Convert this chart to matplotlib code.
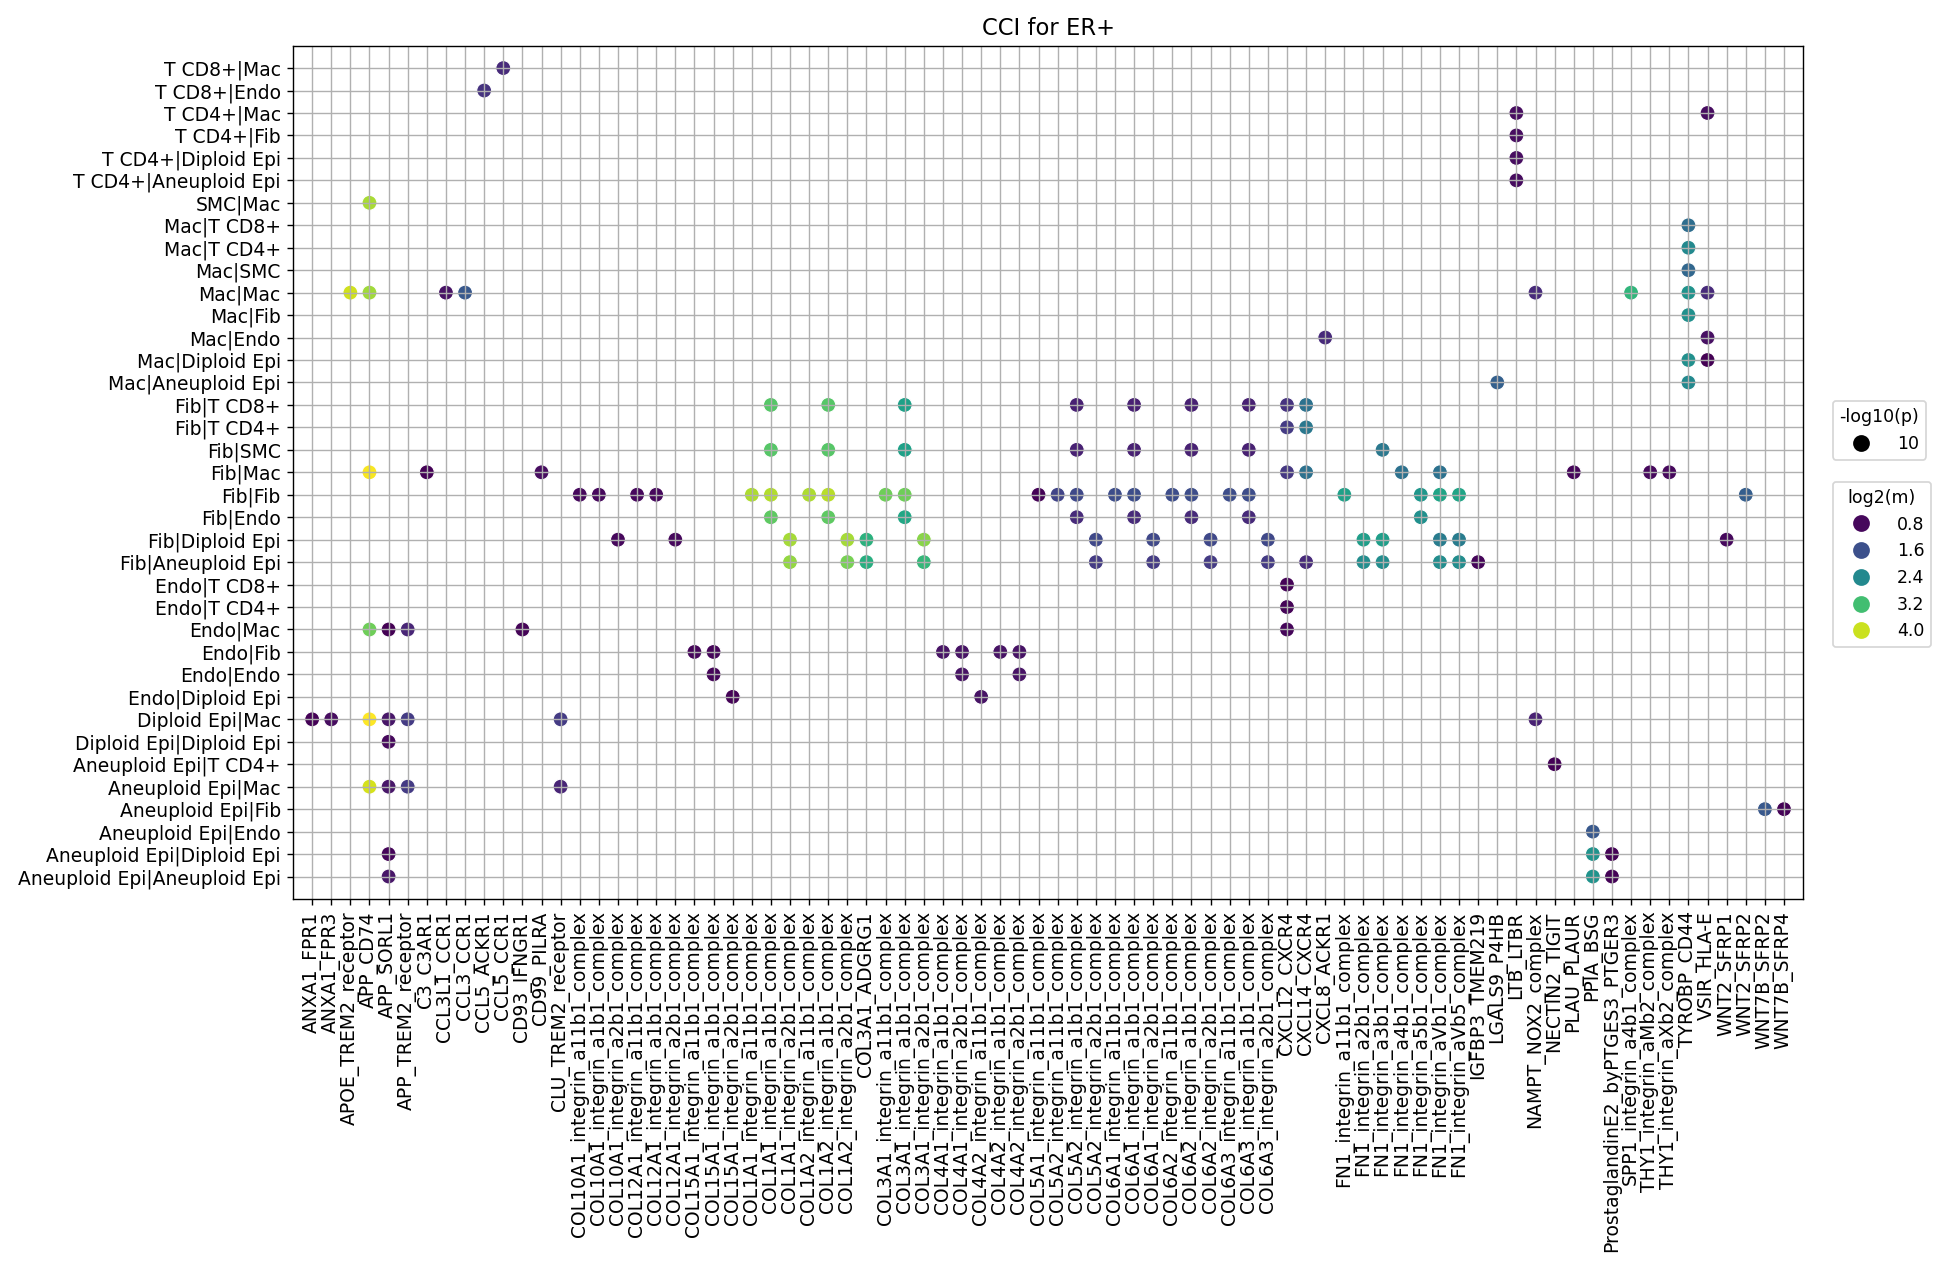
import numpy as np
import matplotlib
matplotlib.use("Agg")
import matplotlib.pyplot as plt
from matplotlib.lines import Line2D

# sender|receiver pairs, top to bottom
pairs = [
    "T CD8+|Mac", "T CD8+|Endo", "T CD4+|Mac", "T CD4+|Fib", "T CD4+|Diploid Epi",
    "T CD4+|Aneuploid Epi", "SMC|Mac", "Mac|T CD8+", "Mac|T CD4+", "Mac|SMC",
    "Mac|Mac", "Mac|Fib", "Mac|Endo", "Mac|Diploid Epi", "Mac|Aneuploid Epi",
    "Fib|T CD8+", "Fib|T CD4+", "Fib|SMC", "Fib|Mac", "Fib|Fib", "Fib|Endo",
    "Fib|Diploid Epi", "Fib|Aneuploid Epi", "Endo|T CD8+", "Endo|T CD4+",
    "Endo|Mac", "Endo|Fib", "Endo|Endo", "Endo|Diploid Epi", "Diploid Epi|Mac",
    "Diploid Epi|Diploid Epi", "Aneuploid Epi|T CD4+", "Aneuploid Epi|Mac",
    "Aneuploid Epi|Fib", "Aneuploid Epi|Endo", "Aneuploid Epi|Diploid Epi",
    "Aneuploid Epi|Aneuploid Epi",
]

# ligand_receptor interactions, left to right
interactions = [
    "ANXA1_FPR1", "ANXA1_FPR3", "APOE_TREM2_receptor", "APP_CD74", "APP_SORL1",
    "APP_TREM2_receptor", "C3_C3AR1", "CCL3L1_CCR1", "CCL3_CCR1", "CCL5_ACKR1",
    "CCL5_CCR1", "CD93_IFNGR1", "CD99_PILRA", "CLU_TREM2_receptor",
    "COL10A1_integrin_a11b1_complex", "COL10A1_integrin_a1b1_complex",
    "COL10A1_integrin_a2b1_complex", "COL12A1_integrin_a11b1_complex",
    "COL12A1_integrin_a1b1_complex", "COL12A1_integrin_a2b1_complex",
    "COL15A1_integrin_a11b1_complex", "COL15A1_integrin_a1b1_complex",
    "COL15A1_integrin_a2b1_complex", "COL1A1_integrin_a11b1_complex",
    "COL1A1_integrin_a1b1_complex", "COL1A1_integrin_a2b1_complex",
    "COL1A2_integrin_a11b1_complex", "COL1A2_integrin_a1b1_complex",
    "COL1A2_integrin_a2b1_complex", "COL3A1_ADGRG1",
    "COL3A1_integrin_a11b1_complex", "COL3A1_integrin_a1b1_complex",
    "COL3A1_integrin_a2b1_complex", "COL4A1_integrin_a1b1_complex",
    "COL4A1_integrin_a2b1_complex", "COL4A2_integrin_a11b1_complex",
    "COL4A2_integrin_a1b1_complex", "COL4A2_integrin_a2b1_complex",
    "COL5A1_integrin_a11b1_complex", "COL5A2_integrin_a11b1_complex",
    "COL5A2_integrin_a1b1_complex", "COL5A2_integrin_a2b1_complex",
    "COL6A1_integrin_a11b1_complex", "COL6A1_integrin_a1b1_complex",
    "COL6A1_integrin_a2b1_complex", "COL6A2_integrin_a11b1_complex",
    "COL6A2_integrin_a1b1_complex", "COL6A2_integrin_a2b1_complex",
    "COL6A3_integrin_a11b1_complex", "COL6A3_integrin_a1b1_complex",
    "COL6A3_integrin_a2b1_complex", "CXCL12_CXCR4", "CXCL14_CXCR4", "CXCL8_ACKR1",
    "FN1_integrin_a11b1_complex", "FN1_integrin_a2b1_complex",
    "FN1_integrin_a3b1_complex", "FN1_integrin_a4b1_complex",
    "FN1_integrin_a5b1_complex", "FN1_integrin_aVb1_complex",
    "FN1_integrin_aVb5_complex", "IGFBP3_TMEM219", "LGALS9_P4HB", "LTB_LTBR",
    "NAMPT_NOX2_complex", "NECTIN2_TIGIT", "PLAU_PLAUR", "PPIA_BSG",
    "ProstaglandinE2_byPTGES3_PTGER3", "SPP1_integrin_a4b1_complex",
    "THY1_integrin_aMb2_complex", "THY1_integrin_aXb2_complex", "TYROBP_CD44",
    "VSIR_HLA-E", "WNT2_SFRP1", "WNT2_SFRP2", "WNT7B_SFRP2", "WNT7B_SFRP4",
]

# significant hits: pair, interaction, log2(m)
dot_pair = [
    "T CD8+|Mac",
    "T CD8+|Endo",
    "T CD4+|Mac", "T CD4+|Mac",
    "T CD4+|Fib",
    "T CD4+|Diploid Epi",
    "T CD4+|Aneuploid Epi",
    "SMC|Mac",
    "Mac|T CD8+",
    "Mac|T CD4+",
    "Mac|SMC",
    "Mac|Mac", "Mac|Mac", "Mac|Mac", "Mac|Mac", "Mac|Mac", "Mac|Mac", "Mac|Mac", "Mac|Mac",
    "Mac|Fib",
    "Mac|Endo", "Mac|Endo",
    "Mac|Diploid Epi", "Mac|Diploid Epi",
    "Mac|Aneuploid Epi", "Mac|Aneuploid Epi",
    "Fib|T CD8+", "Fib|T CD8+", "Fib|T CD8+", "Fib|T CD8+", "Fib|T CD8+",
    "Fib|T CD8+", "Fib|T CD8+", "Fib|T CD8+", "Fib|T CD8+",
    "Fib|T CD4+", "Fib|T CD4+",
    "Fib|SMC", "Fib|SMC", "Fib|SMC", "Fib|SMC", "Fib|SMC", "Fib|SMC", "Fib|SMC", "Fib|SMC",
    "Fib|Mac", "Fib|Mac", "Fib|Mac", "Fib|Mac", "Fib|Mac",
    "Fib|Mac", "Fib|Mac", "Fib|Mac", "Fib|Mac", "Fib|Mac",
    "Fib|Fib", "Fib|Fib", "Fib|Fib", "Fib|Fib", "Fib|Fib", "Fib|Fib",
    "Fib|Fib", "Fib|Fib", "Fib|Fib", "Fib|Fib", "Fib|Fib", "Fib|Fib",
    "Fib|Fib", "Fib|Fib", "Fib|Fib", "Fib|Fib", "Fib|Fib", "Fib|Fib",
    "Fib|Fib", "Fib|Fib", "Fib|Fib", "Fib|Fib", "Fib|Fib", "Fib|Fib",
    "Fib|Endo", "Fib|Endo", "Fib|Endo", "Fib|Endo", "Fib|Endo", "Fib|Endo", "Fib|Endo", "Fib|Endo",
    "Fib|Diploid Epi", "Fib|Diploid Epi", "Fib|Diploid Epi", "Fib|Diploid Epi",
    "Fib|Diploid Epi", "Fib|Diploid Epi", "Fib|Diploid Epi", "Fib|Diploid Epi",
    "Fib|Diploid Epi", "Fib|Diploid Epi", "Fib|Diploid Epi", "Fib|Diploid Epi",
    "Fib|Diploid Epi", "Fib|Diploid Epi", "Fib|Diploid Epi",
    "Fib|Aneuploid Epi", "Fib|Aneuploid Epi", "Fib|Aneuploid Epi", "Fib|Aneuploid Epi",
    "Fib|Aneuploid Epi", "Fib|Aneuploid Epi", "Fib|Aneuploid Epi", "Fib|Aneuploid Epi",
    "Fib|Aneuploid Epi", "Fib|Aneuploid Epi", "Fib|Aneuploid Epi", "Fib|Aneuploid Epi",
    "Fib|Aneuploid Epi", "Fib|Aneuploid Epi",
    "Endo|T CD8+",
    "Endo|T CD4+",
    "Endo|Mac", "Endo|Mac", "Endo|Mac", "Endo|Mac", "Endo|Mac",
    "Endo|Fib", "Endo|Fib", "Endo|Fib", "Endo|Fib", "Endo|Fib", "Endo|Fib",
    "Endo|Endo", "Endo|Endo", "Endo|Endo",
    "Endo|Diploid Epi", "Endo|Diploid Epi",
    "Diploid Epi|Mac", "Diploid Epi|Mac", "Diploid Epi|Mac", "Diploid Epi|Mac",
    "Diploid Epi|Mac", "Diploid Epi|Mac", "Diploid Epi|Mac",
    "Diploid Epi|Diploid Epi",
    "Aneuploid Epi|T CD4+",
    "Aneuploid Epi|Mac", "Aneuploid Epi|Mac", "Aneuploid Epi|Mac", "Aneuploid Epi|Mac",
    "Aneuploid Epi|Fib", "Aneuploid Epi|Fib",
    "Aneuploid Epi|Endo",
    "Aneuploid Epi|Diploid Epi", "Aneuploid Epi|Diploid Epi", "Aneuploid Epi|Diploid Epi",
    "Aneuploid Epi|Aneuploid Epi", "Aneuploid Epi|Aneuploid Epi", "Aneuploid Epi|Aneuploid Epi",
]

dot_lr = [
    "CCL5_CCR1",
    "CCL5_ACKR1",
    "LTB_LTBR", "VSIR_HLA-E",
    "LTB_LTBR",
    "LTB_LTBR",
    "LTB_LTBR",
    "APP_CD74",
    "TYROBP_CD44",
    "TYROBP_CD44",
    "TYROBP_CD44",
    "APOE_TREM2_receptor", "APP_CD74", "CCL3L1_CCR1", "CCL3_CCR1",
    "NAMPT_NOX2_complex", "SPP1_integrin_a4b1_complex", "TYROBP_CD44", "VSIR_HLA-E",
    "TYROBP_CD44",
    "CXCL8_ACKR1", "VSIR_HLA-E",
    "TYROBP_CD44", "VSIR_HLA-E",
    "LGALS9_P4HB", "TYROBP_CD44",
    # Fib|T CD8+
    "COL1A1_integrin_a1b1_complex", "COL1A2_integrin_a1b1_complex",
    "COL3A1_integrin_a1b1_complex", "COL5A2_integrin_a1b1_complex",
    "COL6A1_integrin_a1b1_complex", "COL6A2_integrin_a1b1_complex",
    "COL6A3_integrin_a1b1_complex", "CXCL12_CXCR4", "CXCL14_CXCR4",
    # Fib|T CD4+
    "CXCL12_CXCR4", "CXCL14_CXCR4",
    # Fib|SMC
    "COL1A1_integrin_a1b1_complex", "COL1A2_integrin_a1b1_complex",
    "COL3A1_integrin_a1b1_complex", "COL5A2_integrin_a1b1_complex",
    "COL6A1_integrin_a1b1_complex", "COL6A2_integrin_a1b1_complex",
    "COL6A3_integrin_a1b1_complex", "FN1_integrin_a3b1_complex",
    # Fib|Mac
    "APP_CD74", "C3_C3AR1", "CD99_PILRA", "CXCL12_CXCR4", "CXCL14_CXCR4",
    "FN1_integrin_a4b1_complex", "FN1_integrin_aVb1_complex", "PLAU_PLAUR",
    "THY1_integrin_aMb2_complex", "THY1_integrin_aXb2_complex",
    # Fib|Fib
    "COL10A1_integrin_a11b1_complex", "COL10A1_integrin_a1b1_complex",
    "COL12A1_integrin_a11b1_complex", "COL12A1_integrin_a1b1_complex",
    "COL1A1_integrin_a11b1_complex", "COL1A1_integrin_a1b1_complex",
    "COL1A2_integrin_a11b1_complex", "COL1A2_integrin_a1b1_complex",
    "COL3A1_integrin_a11b1_complex", "COL3A1_integrin_a1b1_complex",
    "COL5A1_integrin_a11b1_complex", "COL5A2_integrin_a11b1_complex",
    "COL5A2_integrin_a1b1_complex", "COL6A1_integrin_a11b1_complex",
    "COL6A1_integrin_a1b1_complex", "COL6A2_integrin_a11b1_complex",
    "COL6A2_integrin_a1b1_complex", "COL6A3_integrin_a11b1_complex",
    "COL6A3_integrin_a1b1_complex", "FN1_integrin_a11b1_complex",
    "FN1_integrin_a5b1_complex", "FN1_integrin_aVb1_complex",
    "FN1_integrin_aVb5_complex", "WNT2_SFRP2",
    # Fib|Endo
    "COL1A1_integrin_a1b1_complex", "COL1A2_integrin_a1b1_complex",
    "COL3A1_integrin_a1b1_complex", "COL5A2_integrin_a1b1_complex",
    "COL6A1_integrin_a1b1_complex", "COL6A2_integrin_a1b1_complex",
    "COL6A3_integrin_a1b1_complex", "FN1_integrin_a5b1_complex",
    # Fib|Diploid Epi
    "COL10A1_integrin_a2b1_complex", "COL12A1_integrin_a2b1_complex",
    "COL1A1_integrin_a2b1_complex", "COL1A2_integrin_a2b1_complex",
    "COL3A1_ADGRG1", "COL3A1_integrin_a2b1_complex",
    "COL5A2_integrin_a2b1_complex", "COL6A1_integrin_a2b1_complex",
    "COL6A2_integrin_a2b1_complex", "COL6A3_integrin_a2b1_complex",
    "FN1_integrin_a2b1_complex", "FN1_integrin_a3b1_complex",
    "FN1_integrin_aVb1_complex", "FN1_integrin_aVb5_complex", "WNT2_SFRP1",
    # Fib|Aneuploid Epi
    "COL1A1_integrin_a2b1_complex", "COL1A2_integrin_a2b1_complex",
    "COL3A1_ADGRG1", "COL3A1_integrin_a2b1_complex",
    "COL5A2_integrin_a2b1_complex", "COL6A1_integrin_a2b1_complex",
    "COL6A2_integrin_a2b1_complex", "COL6A3_integrin_a2b1_complex",
    "CXCL14_CXCR4", "FN1_integrin_a2b1_complex", "FN1_integrin_a3b1_complex",
    "FN1_integrin_aVb1_complex", "FN1_integrin_aVb5_complex", "IGFBP3_TMEM219",
    # Endo rows
    "CXCL12_CXCR4",
    "CXCL12_CXCR4",
    "APP_CD74", "APP_SORL1", "APP_TREM2_receptor", "CD93_IFNGR1", "CXCL12_CXCR4",
    "COL15A1_integrin_a11b1_complex", "COL15A1_integrin_a1b1_complex",
    "COL4A1_integrin_a1b1_complex", "COL4A1_integrin_a2b1_complex",
    "COL4A2_integrin_a1b1_complex", "COL4A2_integrin_a2b1_complex",
    "COL15A1_integrin_a1b1_complex", "COL4A1_integrin_a2b1_complex",
    "COL4A2_integrin_a2b1_complex",
    "COL15A1_integrin_a2b1_complex", "COL4A2_integrin_a11b1_complex",
    # Epi rows
    "ANXA1_FPR1", "ANXA1_FPR3", "APP_CD74", "APP_SORL1", "APP_TREM2_receptor",
    "CLU_TREM2_receptor", "NAMPT_NOX2_complex",
    "APP_SORL1",
    "NECTIN2_TIGIT",
    "APP_CD74", "APP_SORL1", "APP_TREM2_receptor", "CLU_TREM2_receptor",
    "WNT7B_SFRP2", "WNT7B_SFRP4",
    "PPIA_BSG",
    "APP_SORL1", "PPIA_BSG", "ProstaglandinE2_byPTGES3_PTGER3",
    "APP_SORL1", "PPIA_BSG", "ProstaglandinE2_byPTGES3_PTGER3",
]

dot_log2m = [
    1.15,
    1.25,
    0.85, 0.85,
    0.85,
    0.85,
    0.83,
    3.82,
    1.98,
    2.40,
    1.90,
    4.03, 3.78, 0.90, 1.70, 1.15, 3.05, 2.55, 1.15,
    2.50,
    1.15, 0.87,
    2.50, 0.73,
    1.80, 2.40,
    # Fib|T CD8+
    3.35, 3.35, 2.75, 1.05, 1.05, 1.05, 1.05, 1.25, 2.05,
    # Fib|T CD4+
    1.35, 2.15,
    # Fib|SMC
    3.35, 3.35, 2.75, 1.05, 1.05, 1.05, 1.05, 2.15,
    # Fib|Mac
    4.25, 0.75, 0.85, 1.30, 2.05, 2.05, 2.05, 0.78, 0.80, 0.80,
    # Fib|Fib
    0.80, 0.80, 0.80, 0.80, 3.85, 3.87, 3.85, 3.90, 3.50, 3.50, 0.75, 1.45,
    1.50, 1.55, 1.55, 1.55, 1.55, 1.55, 1.55, 2.75, 2.60, 2.80, 2.80, 1.78,
    # Fib|Endo
    3.40, 3.40, 2.85, 1.15, 1.15, 1.15, 1.15, 2.50,
    # Fib|Diploid Epi
    0.80, 0.80, 3.80, 3.80, 3.00, 3.65, 1.50, 1.50, 1.50, 1.50, 2.70, 2.70,
    2.20, 2.20, 0.80,
    # Fib|Aneuploid Epi
    3.70, 3.55, 2.95, 3.10, 1.35, 1.35, 1.35, 1.35, 1.15, 2.45, 2.45, 2.45,
    2.45, 0.78,
    # Endo rows
    0.76,
    0.76,
    3.50, 0.74, 1.10, 0.76, 0.78,
    0.78, 0.78, 0.90, 0.90, 0.90, 0.90,
    0.78, 0.90, 0.90,
    0.76, 0.90,
    # Epi rows
    0.75, 0.85, 4.28, 0.95, 1.35, 1.35, 1.05,
    0.80,
    0.75,
    4.05, 0.95, 1.35, 1.10,
    1.70, 0.75,
    1.70,
    0.78, 2.55, 0.75,
    0.95, 2.55, 0.75,
]

p_level = 10          # -log10(p) of every hit
hue_ticks = [0.8, 1.6, 2.4, 3.2, 4.0]
dot_area = 75

fig = plt.figure(figsize=(1947 / 125, 1271 / 125), dpi=125)
ax = fig.add_axes([0.1505, 0.2927, 0.7756, 0.6714])

# fix the category order before plotting
ax.xaxis.update_units(interactions)
ax.yaxis.update_units(pairs)

sc = ax.scatter(dot_lr, dot_pair, c=dot_log2m, cmap="viridis", s=dot_area,
                edgecolors="white", linewidths=0.7)

ax.set_xlim(-1, len(interactions))
ax.set_ylim(len(pairs), -1)
ax.grid(True)
ax.tick_params(axis="x", labelrotation=90)
ax.tick_params(labelsize=10.8)
ax.set_title("CCI for ER+", fontsize=13)

# legends
ms = np.sqrt(dot_area)
size_handles = [Line2D([], [], ls="", marker="o", markersize=ms, color="black")]
leg1 = ax.legend(size_handles, [str(p_level)], title="-log10(p)",
                 loc="upper left", bbox_to_anchor=(1.0195, 0.5836),
                 borderaxespad=0, handlelength=2.5)
ax.add_artist(leg1)

hue_handles = [Line2D([], [], ls="", marker="o", markersize=ms,
                      color=sc.cmap(sc.norm(v))) for v in hue_ticks]
ax.legend(hue_handles, [f"{v:.1f}" for v in hue_ticks], title="log2(m)",
          loc="upper left", bbox_to_anchor=(1.0195, 0.4887),
          borderaxespad=0, handlelength=2.5)

fig.savefig("out.png", dpi=125)
